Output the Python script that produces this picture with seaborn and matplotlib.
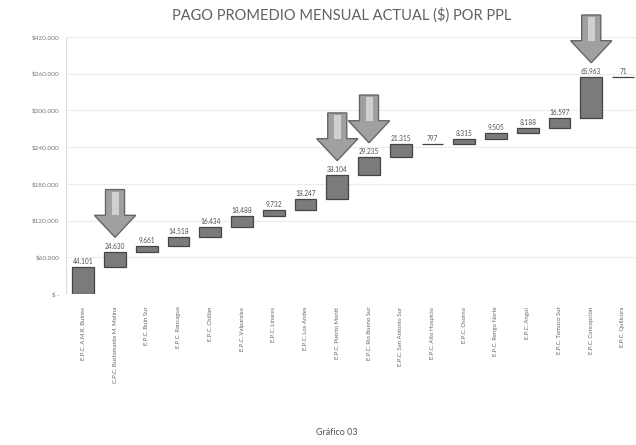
import numpy as np
import seaborn as sns
import matplotlib.pyplot as plt
from matplotlib.patches import FancyArrow, Rectangle

establecimientos = [
    "E.P.C. A.M.R. Bulnes",
    "C.P.C. Bustamante M. Molina",
    "E.P.C. Buin Sur",
    "E.P.C. Rancagua",
    "E.P.C. Chillán",
    "E.P.C. Valparaíso",
    "E.P.C. Linares",
    "E.P.C. Los Andes",
    "E.P.C. Puerto Montt",
    "E.P.C. Río Bueno Sur",
    "E.P.C. San Antonio Sur",
    "E.P.C. Alto Hospicio",
    "E.P.C. Osorno",
    "E.P.C. Rengo Norte",
    "E.P.C. Angol",
    "E.P.C. Temuco Sur",
    "E.P.C. Concepción",
    "E.P.C. Quilicura",
]
pago = [44101, 24630, 9661, 14518, 16434, 18488, 9732, 18247, 38104,
        29235, 21315, 797, 8315, 9505, 8188, 16597, 65963, 71]
destacados = [1, 8, 9, 16]
yticks = np.arange(0, 420001, 60000)


def miles(v):
    if v == 0:
        return "$ -"
    return "$" + f"{v:,.0f}".replace(",", ".")


sns.set_theme(style="white")
plt.rcParams['font.family'] = ['Lato', 'DejaVu Sans']

pago = np.array(pago)
base = np.concatenate([[0], np.cumsum(pago)[:-1]])
tope = base + pago

fig = plt.figure(figsize=(6.36, 4.45), dpi=100)
ax = fig.add_axes([0.104, 0.339, 0.896, 0.578])

sns.barplot(x=establecimientos, y=pago, bottom=base, color="#7b7b7b",
            saturation=1, width=0.68, edgecolor="#444444", linewidth=0.9, ax=ax)

# etiquetas de valor sobre cada barra
for i, v in enumerate(pago):
    ax.text(i, tope[i] + 3500, f"{v:,.0f}".replace(",", "."), ha="center",
            va="bottom", fontsize=4.7, color="#505050")

# flechas de los establecimientos destacados
largo, cabeza, gap = 78000, 36000, 24000
for i in destacados:
    punta = tope[i] + gap
    ax.add_patch(FancyArrow(i, punta + largo, 0, -largo, width=0.6,
                            head_width=1.3, head_length=cabeza,
                            length_includes_head=True, fc="#a0a0a0",
                            ec="#666666", lw=1.0, clip_on=False, zorder=4))
    ax.add_patch(Rectangle((i - 0.11, punta + cabeza), 0.22,
                           largo - cabeza - 4000, fc="#d0d0d0", ec="none",
                           clip_on=False, zorder=5))

ax.set_ylim(0, 420000)
ax.set_xlim(-0.54, 17.41)
ax.set_yticks(yticks)
ax.set_yticklabels([miles(v) for v in yticks])
ax.yaxis.grid(True, color="#ececec", lw=0.8)
ax.set_axisbelow(True)

ax.set_xticks(range(len(establecimientos)))
ax.set_xticklabels(establecimientos, rotation=90, va="top", ha="center")
ax.tick_params(axis="x", length=0, pad=9, labelsize=4.3, labelcolor="#666666")
ax.tick_params(axis="y", length=0, pad=5, labelsize=4.6, labelcolor="#777777")

for s in ["top", "right", "bottom"]:
    ax.spines[s].set_visible(False)
ax.spines["left"].set_color("#dddddd")
ax.spines["left"].set_linewidth(0.8)

fig.text(0.537, 0.966, "PAGO PROMEDIO MENSUAL ACTUAL ($) POR PPL",
         ha="center", va="center", fontsize=10.5, color="#606060")
fig.text(0.53, 0.029, "Gráfico 03", ha="center", va="center",
         fontsize=6.5, color="#555555")

fig.savefig("out.png", dpi=100)
